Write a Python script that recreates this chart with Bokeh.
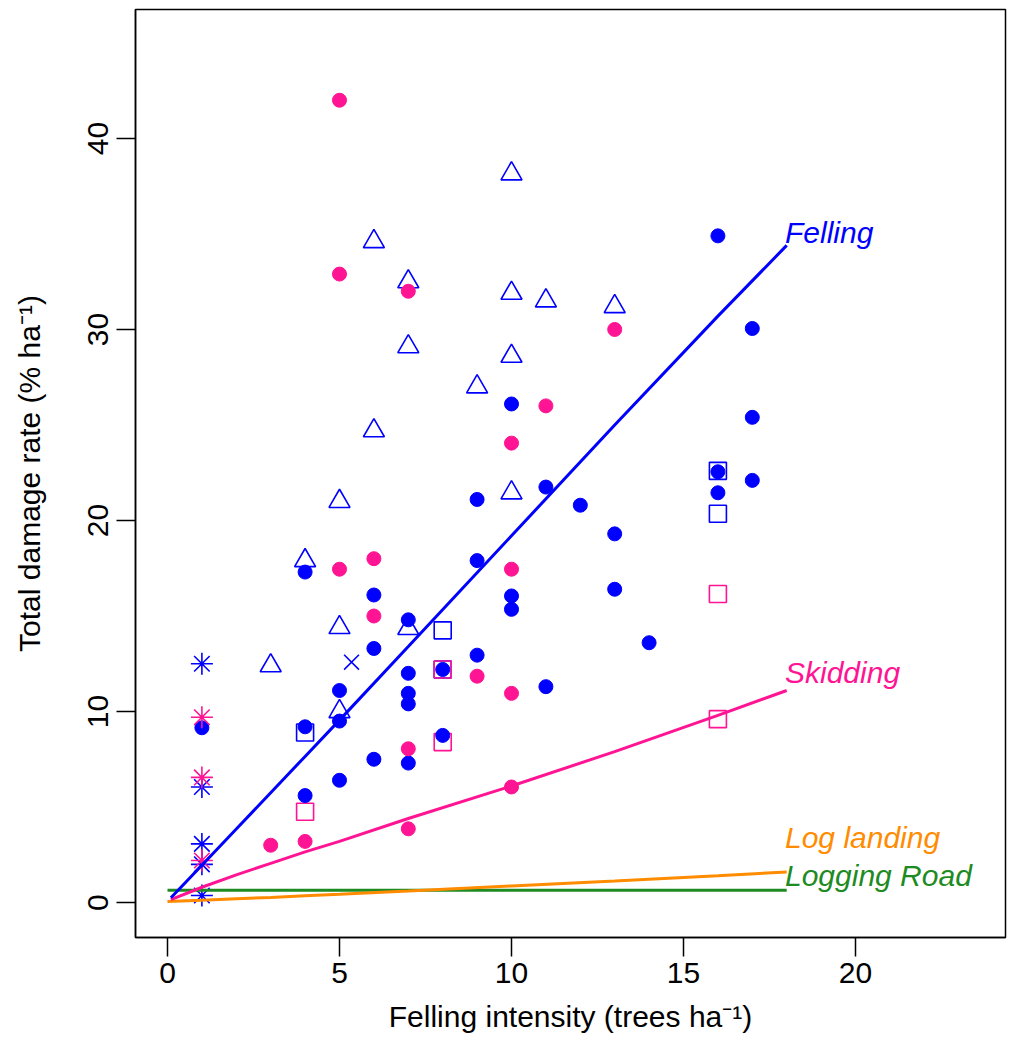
from bokeh.plotting import figure
from bokeh.models import Range1d, FixedTicker
from bokeh.core.properties import value
from bokeh.embed import file_html
from bokeh.resources import INLINE

# ---------------- data ----------------
x_ticks = [0, 5, 10, 15, 20]
y_ticks = [0, 10, 20, 30, 40]

blue_dot_x = [1, 4, 4, 4, 5, 5, 5, 6, 6, 6, 7, 7, 7, 7, 7, 8, 8, 9, 9, 9,
              10, 10, 10, 11, 11, 12, 13, 13, 14, 16, 16, 16, 17, 17, 17]
blue_dot_y = [9.15, 17.3, 9.2, 5.6, 11.1, 9.5, 6.4, 16.1, 13.3, 7.5,
              14.8, 12.0, 10.95, 10.4, 7.3, 12.2, 8.75, 21.1, 17.9, 12.95,
              26.1, 16.05, 15.35, 21.75, 11.3, 20.8, 19.3, 16.4, 13.6,
              34.9, 22.55, 21.45, 30.05, 25.4, 22.1]

pink_dot_x = [3, 4, 5, 5, 5, 6, 6, 7, 7, 7, 9, 10, 10, 10, 10, 11, 13]
pink_dot_y = [3.0, 3.2, 42.0, 32.9, 17.45, 18.0, 15.0, 32.0, 8.05, 3.86,
              11.85, 24.05, 17.45, 10.95, 6.05, 26.0, 30.0]

blue_tri_x = [3, 4, 5, 5, 5, 6, 6, 7, 7, 7, 9, 10, 10, 10, 10, 11, 13]
blue_tri_y = [12.4, 17.9, 21.0, 14.4, 10.0, 34.6, 24.7, 32.5, 29.1, 14.35,
              27.0, 38.15, 31.9, 28.6, 21.45, 31.5, 31.2]

blue_sq_x = [4, 8, 8, 16, 16]
blue_sq_y = [8.9, 14.25, 12.2, 22.6, 20.35]

pink_sq_x = [4, 8, 8, 16, 16]
pink_sq_y = [4.75, 12.2, 8.4, 16.15, 9.6]

blue_ast_x = [1, 1, 1, 1, 1]
blue_ast_y = [12.5, 6.05, 3.07, 2.0, 0.37]

pink_ast_x = [1, 1, 1]
pink_ast_y = [9.7, 6.55, 2.2]

blue_x_x = [5.35]
blue_x_y = [12.58]

# fitted curves
fit_x = [0.1, 1, 2, 3, 4, 5, 7, 10, 13, 16, 18]
felling_fit = [0.25, 1.95, 3.85, 5.75, 7.65, 9.55, 13.4, 19.2, 25.0, 30.7, 34.4]
skidding_fit = [0.15, 0.8, 1.45, 2.05, 2.65, 3.2, 4.4, 6.1, 7.9, 9.8, 11.1]
landing_x = [0.0, 1, 2, 3, 4, 5, 7, 10, 13, 16, 18]
landing_fit = [0.05, 0.12, 0.2, 0.27, 0.35, 0.43, 0.6, 0.87, 1.13, 1.4, 1.6]
road_x = [0.0, 18]
road_fit = [0.65, 0.65]

curve_labels = ["Felling", "Skidding", "Log landing", "Logging Road"]

# ---------------- styling ----------------
BLUE = "#0000FF"
PINK = "#FF1493"
ORANGE = "#FF8C00"
GREEN = "#1E8B22"
FONT = "Liberation Sans"

p = figure(width=1012, height=1045, output_backend="svg", toolbar_location=None,
           x_range=Range1d(-0.93, 24.36), y_range=Range1d(-1.83, 46.75),
           min_border_left=135, min_border_right=7, min_border_top=9,
           min_border_bottom=108)
p.background_fill_color = "white"
p.border_fill_color = "white"
p.outline_line_color = "black"
p.outline_line_width = 1.5
p.xgrid.visible = False
p.ygrid.visible = False

for ax in (p.xaxis[0], p.yaxis[0]):
    ax.major_tick_out = 19
    ax.major_tick_in = 0
    ax.minor_tick_out = 0
    ax.minor_tick_in = 0
    ax.major_tick_line_color = "black"
    ax.major_tick_line_width = 1.5
    ax.axis_line_color = "black"
    ax.axis_line_width = 1.5
    ax.major_label_text_font = FONT
    ax.major_label_text_font_size = "30px"
    ax.major_label_text_color = "black"
    ax.axis_label_text_font = FONT
    ax.axis_label_text_font_size = "30px"
    ax.axis_label_text_font_style = "normal"
    ax.axis_label_text_color = "black"

p.xaxis.ticker = FixedTicker(ticks=x_ticks)
p.yaxis.ticker = FixedTicker(ticks=y_ticks)
p.yaxis.major_label_orientation = "vertical"
p.xaxis.major_label_standoff = 6
p.yaxis.major_label_standoff = 8
p.xaxis.axis_label = "Felling intensity (trees ha\u207b\u00b9)"
p.yaxis.axis_label = "Total damage rate (% ha\u207b\u00b9)"
p.xaxis.axis_label_standoff = 14
p.yaxis.axis_label_standoff = 40

# ---------------- points ----------------
p.scatter(blue_tri_x, blue_tri_y, marker="triangle", size=21, fill_color=None,
          line_color=BLUE, line_width=1.6)
p.scatter(blue_sq_x, blue_sq_y, marker="square", size=17, fill_color=None,
          line_color=BLUE, line_width=1.6)
p.scatter(pink_sq_x, pink_sq_y, marker="square", size=17, fill_color=None,
          line_color=PINK, line_width=1.6)
p.scatter(blue_dot_x, blue_dot_y, marker="circle", size=14, fill_color=BLUE,
          line_color=BLUE, line_width=1)
p.scatter(pink_dot_x, pink_dot_y, marker="circle", size=14, fill_color=PINK,
          line_color=PINK, line_width=1)
p.scatter(blue_ast_x, blue_ast_y, marker="asterisk", size=22, line_color=BLUE,
          line_width=1.6)
p.scatter(pink_ast_x, pink_ast_y, marker="asterisk", size=22, line_color=PINK,
          line_width=1.6)
p.scatter(blue_x_x, blue_x_y, marker="x", size=21, line_color=BLUE, line_width=1.6)

# ---------------- fitted curves ----------------
p.line(road_x, road_fit, line_color=GREEN, line_width=3)
p.line(landing_x, landing_fit, line_color=ORANGE, line_width=3)
p.line(fit_x, skidding_fit, line_color=PINK, line_width=3)
p.line(fit_x, felling_fit, line_color=BLUE, line_width=3)

# ---------------- curve labels ----------------
label_x = [17.95, 17.95, 17.95, 17.95]
label_y = [35.1, 12.05, 3.42, 1.41]
label_colors = [BLUE, PINK, ORANGE, GREEN]
for t, lx, ly, c in zip(curve_labels, label_x, label_y, label_colors):
    p.text([lx], [ly], text=[t], text_color=c, text_font=value(FONT),
           text_font_style="italic", text_font_size="30px",
           text_align="left", text_baseline="middle")

open("out.html", "w").write(file_html(p, INLINE))
